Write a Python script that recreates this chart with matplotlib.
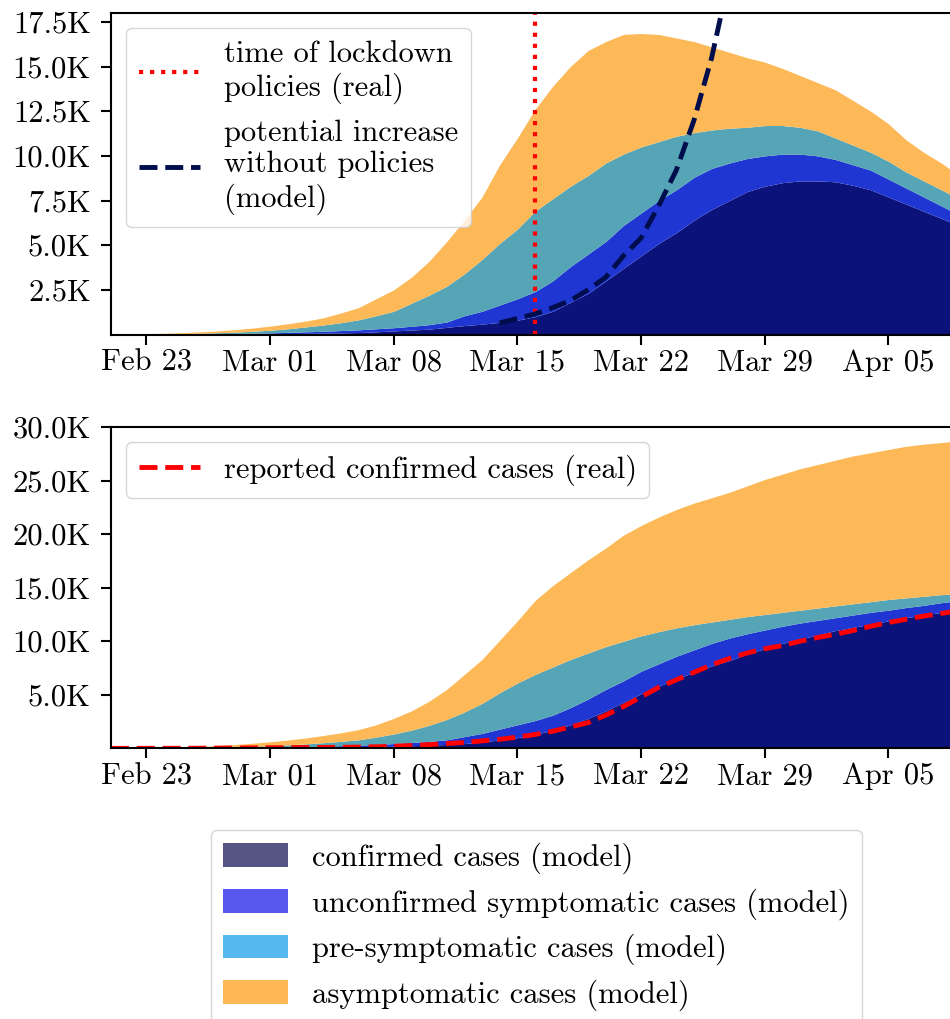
import numpy as np
import matplotlib
matplotlib.use("Agg")
import matplotlib.pyplot as plt
import matplotlib.dates as mdates
from matplotlib.patches import Patch
from matplotlib.ticker import FuncFormatter, FixedLocator

plt.rcParams['font.family'] = ['cmr10', 'DejaVu Serif']
plt.rcParams['mathtext.fontset'] = 'cm'
plt.rcParams['axes.formatter.use_mathtext'] = True
plt.rcParams['axes.unicode_minus'] = False

# ---------------- data (thousands of cases), daily from 2020-02-21 ----------------
start_date = np.datetime64('2020-02-21')
n_days = 49
dates = start_date + np.arange(n_days)

# Top panel: active cases (stack boundaries, cumulative from bottom)
top_confirmed = [0.002, 0.003, 0.005, 0.007, 0.01, 0.014, 0.02, 0.026, 0.033, 0.04,
                 0.05, 0.06, 0.075, 0.09, 0.11, 0.15, 0.2, 0.25, 0.3, 0.4,
                 0.5, 0.58, 0.68, 0.8, 1.0, 1.3, 1.8, 2.3, 3.0, 3.7,
                 4.4, 5.1, 5.7, 6.4, 7.0, 7.5, 8.0, 8.3, 8.5, 8.6,
                 8.6, 8.55, 8.35, 8.1, 7.7, 7.3, 6.9, 6.5, 6.1]
top_unconfirmed = [0.005, 0.007, 0.01, 0.014, 0.02, 0.03, 0.04, 0.055, 0.07, 0.09,
                   0.12, 0.15, 0.18, 0.22, 0.26, 0.32, 0.38, 0.46, 0.55, 0.7,
                   1.05, 1.3, 1.65, 2.0, 2.4, 3.0, 3.8, 4.5, 5.2, 6.1,
                   6.8, 7.5, 8.1, 8.8, 9.3, 9.6, 9.85, 10.0, 10.1, 10.1,
                   10.0, 9.8, 9.5, 9.2, 8.7, 8.2, 7.7, 7.2, 6.7]
top_presymptomatic = [0.01, 0.015, 0.02, 0.03, 0.05, 0.07, 0.1, 0.13, 0.18, 0.24,
                      0.32, 0.42, 0.53, 0.66, 0.82, 1.05, 1.3, 1.75, 2.2, 2.7,
                      3.4, 4.2, 5.1, 5.9, 6.9, 7.6, 8.3, 8.9, 9.6, 10.1,
                      10.5, 10.8, 11.1, 11.3, 11.45, 11.55, 11.6, 11.7, 11.7, 11.6,
                      11.4, 11.0, 10.6, 10.2, 9.7, 9.1, 8.6, 8.1, 7.6]
top_asymptomatic = [0.02, 0.03, 0.05, 0.07, 0.1, 0.15, 0.2, 0.27, 0.36, 0.47,
                    0.6, 0.75, 0.93, 1.2, 1.5, 2.0, 2.5, 3.2, 4.1, 5.2,
                    6.4, 7.7, 9.5, 11.0, 12.6, 13.9, 15.0, 15.9, 16.4, 16.8,
                    16.85, 16.8, 16.6, 16.4, 16.1, 15.8, 15.5, 15.25, 14.9, 14.5,
                    14.1, 13.7, 13.1, 12.5, 11.8, 10.9, 10.2, 9.6, 8.9]

# potential increase without policies (model), from 2020-03-14
potential_start = np.datetime64('2020-03-14')
potential_increase = [0.65, 0.9, 1.15, 1.5, 1.9, 2.5, 3.2, 4.4, 5.4, 7.2, 9.2, 12.0, 15.5, 20.0]
lockdown_date = np.datetime64('2020-03-16')

# Bottom panel: cumulative cases (stack boundaries)
cum_confirmed = [0.002, 0.003, 0.005, 0.007, 0.01, 0.014, 0.018, 0.024, 0.03, 0.04,
                 0.05, 0.07, 0.09, 0.11, 0.14, 0.17, 0.2, 0.25, 0.3, 0.37,
                 0.45, 0.6, 0.8, 1.0, 1.3, 1.7, 2.2, 2.8, 3.5, 4.3,
                 5.1, 5.8, 6.5, 7.1, 7.7, 8.2, 8.8, 9.3, 9.8, 10.2,
                 10.6, 11.0, 11.3, 11.6, 11.9, 12.2, 12.45, 12.7, 12.9]
cum_unconfirmed = [0.005, 0.008, 0.01, 0.015, 0.02, 0.03, 0.04, 0.06, 0.08, 0.1,
                   0.13, 0.16, 0.2, 0.25, 0.3, 0.37, 0.45, 0.55, 0.65, 0.8,
                   1.1, 1.4, 1.8, 2.2, 2.6, 3.1, 3.8, 4.6, 5.5, 6.3,
                   7.2, 7.9, 8.6, 9.2, 9.8, 10.3, 10.7, 11.05, 11.4, 11.7,
                   11.95, 12.2, 12.45, 12.7, 12.9, 13.15, 13.35, 13.6, 13.8]
cum_presymptomatic = [0.01, 0.015, 0.02, 0.03, 0.05, 0.07, 0.1, 0.14, 0.19, 0.25,
                      0.33, 0.42, 0.53, 0.66, 0.8, 1.05, 1.35, 1.7, 2.15, 2.7,
                      3.4, 4.2, 5.2, 6.1, 6.9, 7.6, 8.3, 8.9, 9.5, 10.0,
                      10.5, 10.9, 11.25, 11.55, 11.8, 12.05, 12.3, 12.5, 12.7, 12.9,
                      13.1, 13.3, 13.5, 13.7, 13.9, 14.05, 14.2, 14.35, 14.45]
cum_asymptomatic = [0.02, 0.03, 0.05, 0.08, 0.12, 0.18, 0.26, 0.36, 0.48, 0.62,
                    0.78, 0.97, 1.2, 1.45, 1.75, 2.2, 2.8, 3.5, 4.4, 5.5,
                    6.9, 8.3, 10.1, 11.9, 13.8, 15.2, 16.4, 17.6, 18.7, 19.9,
                    20.8, 21.6, 22.3, 22.9, 23.4, 23.9, 24.5, 25.1, 25.6, 26.1,
                    26.5, 26.9, 27.3, 27.6, 27.9, 28.2, 28.4, 28.55, 28.7]
reported_confirmed = [0.003, 0.005, 0.008, 0.01, 0.015, 0.02, 0.03, 0.04, 0.05, 0.06,
                      0.07, 0.08, 0.09, 0.1, 0.12, 0.15, 0.2, 0.27, 0.35, 0.45,
                      0.55, 0.7, 0.85, 1.05, 1.3, 1.6, 2.0, 2.4, 3.1, 3.9,
                      4.8, 5.7, 6.4, 7.1, 7.8, 8.4, 8.9, 9.3, 9.6, 10.0,
                      10.35, 10.65, 11.0, 11.4, 11.75, 12.05, 12.35, 12.6, 12.85]

top_yticks = [2.5, 5.0, 7.5, 10.0, 12.5, 15.0, 17.5]
bottom_yticks = [5.0, 10.0, 15.0, 20.0, 25.0, 30.0]
first_xtick = np.datetime64('2020-02-23')
n_xticks = 7

layer_labels = ['confirmed cases (model)', 'unconfirmed symptomatic cases (model)',
                'pre-symptomatic cases (model)', 'asymptomatic cases (model)']

# ---------------- style ----------------
fill_colors = ['#0b1279', '#1f36d3', '#56a5b6', '#fdb957']
legend_colors = ['#555583', '#5858ee', '#55b8ee', '#fdb855']
FS = 22

fig = plt.figure(figsize=(9.5, 10.19), dpi=100)
W, H = 950.0, 1019.0
x_left = 111 / W
ax_w = 848 / W
ax1 = fig.add_axes([x_left, (H - 334.5) / H, ax_w, 321.5 / H])
ax2 = fig.add_axes([x_left, (H - 748.4) / H, ax_w, 321.4 / H])

def draw_stack(ax, levels):
    lower = np.zeros(n_days)
    for lev, col in zip(levels, fill_colors):
        lev = np.asarray(lev)
        ax.fill_between(dates, lower, lev, color=col, linewidth=0)
        lower = lev

draw_stack(ax1, [top_confirmed, top_unconfirmed, top_presymptomatic, top_asymptomatic])
draw_stack(ax2, [cum_confirmed, cum_unconfirmed, cum_presymptomatic, cum_asymptomatic])

l1 = ax1.axvline(lockdown_date, color='red', linestyle=':', linewidth=3.0)
pot_dates = potential_start + np.arange(len(potential_increase))
l2, = ax1.plot(pot_dates, potential_increase, color='#000d4d', linestyle='--', linewidth=3.5)
l3, = ax2.plot(dates, reported_confirmed, color='red', linestyle='--', linewidth=3.5)

kfmt = FuncFormatter(lambda v, p: f"{v:.1f}K")
xt = [mdates.date2num(first_xtick + np.timedelta64(7 * k, 'D')) for k in range(n_xticks)]
for ax, yt, ymax in [(ax1, top_yticks, 18.0), (ax2, bottom_yticks, 30.0)]:
    ax.set_xlim(dates[0], dates[-1])
    ax.set_ylim(0, ymax)
    ax.yaxis.set_major_locator(FixedLocator(yt))
    ax.yaxis.set_major_formatter(kfmt)
    ax.xaxis.set_major_locator(FixedLocator(xt))
    ax.xaxis.set_major_formatter(mdates.DateFormatter('%b %d'))
    ax.tick_params(labelsize=FS, length=7, width=1.5)
    ax.tick_params(axis='y', pad=7.5)
    for s in ax.spines.values():
        s.set_linewidth(1.5)

ax1.legend([l1, l2], ['time of lockdown\npolicies (real)',
                      'potential increase\nwithout policies\n(model)'],
           loc='upper left', fontsize=FS)
ax2.legend([l3], ['reported confirmed cases (real)'], loc='upper left', fontsize=FS)

handles = [Patch(facecolor=c, edgecolor='none') for c in legend_colors]
fig.legend(handles, layer_labels, loc='upper center',
           bbox_to_anchor=(536.5 / W, (H - 830) / H), borderaxespad=0, fontsize=FS,
           handlelength=2.1, handleheight=0.82, labelspacing=0.47)

fig.savefig('out.png', dpi=100)
